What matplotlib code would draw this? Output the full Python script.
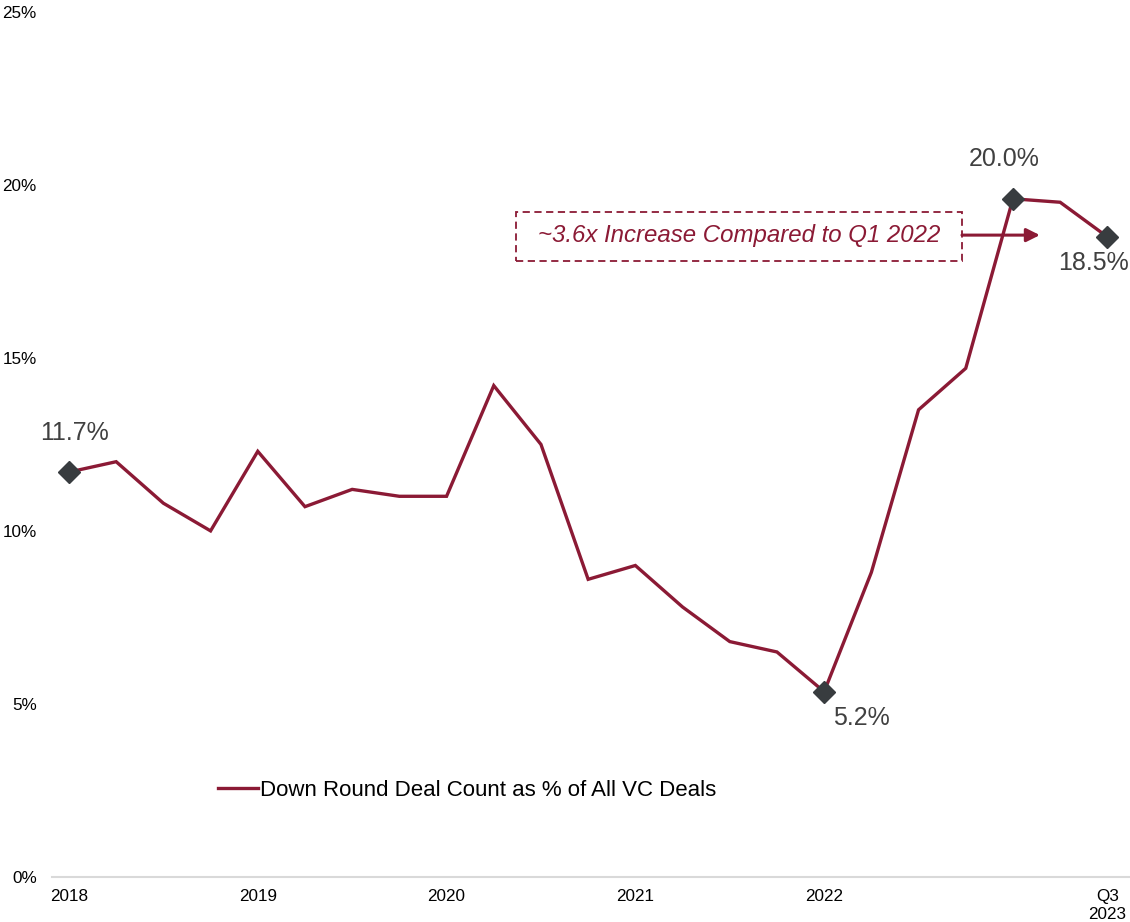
import matplotlib
matplotlib.use("Agg")
import numpy as np
from matplotlib import pyplot as plt
from matplotlib.patches import Rectangle

plt.rcParams['font.family'] = ['Liberation Sans', 'DejaVu Sans']

# Quarterly share of down rounds, Q1 2018 .. Q3 2023 (percent)
quarters = ['Q1 2018', 'Q2 2018', 'Q3 2018', 'Q4 2018',
            'Q1 2019', 'Q2 2019', 'Q3 2019', 'Q4 2019',
            'Q1 2020', 'Q2 2020', 'Q3 2020', 'Q4 2020',
            'Q1 2021', 'Q2 2021', 'Q3 2021', 'Q4 2021',
            'Q1 2022', 'Q2 2022', 'Q3 2022', 'Q4 2022',
            'Q1 2023', 'Q2 2023', 'Q3 2023']
down_round_pct = [11.7, 12.0, 10.8, 10.0,
                  12.3, 10.7, 11.2, 11.0,
                  11.0, 14.2, 12.5, 8.6,
                  9.0, 7.8, 6.8, 6.5,
                  5.35, 8.8, 13.5, 14.7,
                  19.6, 19.5, 18.5]

tick_idx = [0, 4, 8, 12, 16, 22]
tick_labels = ['2018', '2019', '2020', '2021', '2022', 'Q3\n2023']

# highlighted points and their labels
marked_idx = [0, 16, 20, 22]
marked_text = ['11.7%', '5.2%', '20.0%', '18.5%']

LINE = '#8B1A35'
MARK = '#383C3F'
LABEL = '#404040'

fig = plt.figure(figsize=(11.3, 9.22), dpi=100)
ax = fig.add_axes([0.046, 0.049, 0.954, 0.938])

x = np.arange(len(quarters))
ax.plot(x, down_round_pct, color=LINE, lw=2.4, solid_joinstyle='miter',
        label='Down Round Deal Count as % of All VC Deals', zorder=3)
ax.plot(x[marked_idx], np.array(down_round_pct)[marked_idx], ls='none',
        marker='D', ms=11.5, color=MARK, zorder=4)

offsets = [(4, 28), (27, -19), (-6, 29), (-10, -19)]
for i, txt, off in zip(marked_idx, marked_text, offsets):
    ax.annotate(txt, (x[i], down_round_pct[i]), xytext=off,
                textcoords='offset points', ha='center', va='center',
                fontsize=18, color=LABEL)

# callout box and arrow
ax.add_patch(Rectangle((9.47, 17.8), 9.45, 1.42, fill=False, ec=LINE,
                       ls=(0, (4, 2.5)), lw=1.3, zorder=2))
ax.text(14.2, 18.55, '~3.6x Increase Compared to Q1 2022', ha='center',
        va='center', fontsize=17.3, style='italic', color=LINE)
ax.annotate('', xy=(20.57, 18.55), xytext=(18.92, 18.55),
            arrowprops=dict(arrowstyle='-|>', color=LINE, lw=2.2,
                            mutation_scale=20, shrinkA=0, shrinkB=0))

ax.set_xlim(-0.36, 22.48)
ax.set_ylim(0, 25)
ax.set_yticks(np.arange(0, 26, 5))
ax.set_yticklabels([f'{v}%' for v in range(0, 26, 5)])
ax.set_xticks(tick_idx)
ax.set_xticklabels(tick_labels)
ax.tick_params(axis='both', length=0, labelsize=12.3, colors='black')
ax.tick_params(axis='y', pad=11)
ax.tick_params(axis='x', pad=9)

for side in ['top', 'right', 'left']:
    ax.spines[side].set_visible(False)
ax.spines['bottom'].set_color('#D9D9D9')
ax.spines['bottom'].set_linewidth(1.5)

ax.legend(loc='lower left', bbox_to_anchor=(0.135, 0.065), frameon=False,
          fontsize=16, handlelength=1.8, handletextpad=0.1)

fig.savefig('out.png', dpi=100)
